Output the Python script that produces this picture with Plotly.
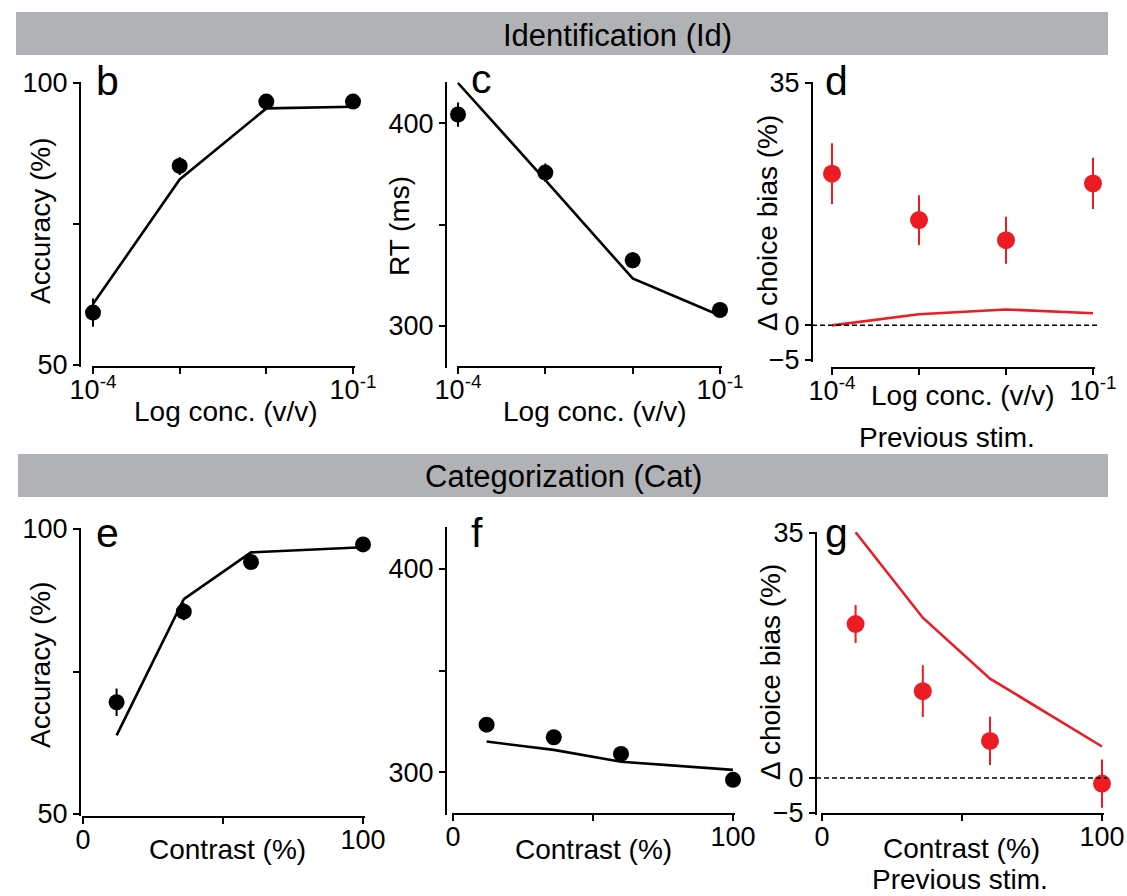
import plotly.graph_objects as go

# ---------------- data ----------------
conc = [1e-4, 1e-3, 1e-2, 1e-1]
contrast = [12, 36, 60, 100]

id_acc = [59.3, 85.3, 96.7, 96.7]
id_acc_err = [2.5, 1.6, 0.6, 0.5]
id_acc_model = [60.8, 82.9, 95.5, 95.8]

id_rt = [404.4, 375.7, 332.3, 307.7]
id_rt_err = [6.0, 4.5, 4.0, 2.0]
id_rt_model = [420.0, 372.0, 323.3, 305.0]

id_bias = [21.9, 15.2, 12.3, 20.5]
id_bias_err = [4.4, 3.6, 3.4, 3.7]
id_bias_model = [0.0, 1.6, 2.3, 1.75]

cat_acc = [69.6, 85.5, 94.2, 97.3]
cat_acc_err = [2.4, 1.5, 0.8, 0.5]
cat_acc_model = [63.8, 87.7, 95.9, 96.8]

cat_rt = [323.4, 317.2, 309.0, 296.3]
cat_rt_err = [2.5, 1.5, 1.5, 1.0]
cat_rt_model = [315.1, 311.0, 305.2, 301.2]

cat_bias = [22.0, 12.4, 5.3, -0.8]
cat_bias_err = [2.7, 3.7, 3.45, 3.45]
cat_bias_model = [35.1, 22.9, 14.2, 4.5]

conc_labeled = [1e-4, 1e-1]
conc_labels = ["10<sup>-4</sup>", "10<sup>-1</sup>"]
conc_minor = [1e-3, 1e-2]
contrast_labeled = [0, 100]
contrast_labels = ["0", "100"]
contrast_minor = [50]
acc_labeled = [50, 100]
acc_labels = ["50", "100"]
acc_minor = [75]
rt_labeled = [300, 400]
rt_labels = ["300", "400"]
rt_minor = [350]
bias_labeled = [-5, 0, 35]
bias_labels = ["\u22125", "0", "35"]
bias_minor = []

# ---------------- layout helpers ----------------
W, H = 1127, 896
BLACK = "black"
RED = "rgb(237,28,36)"
GREY = "rgb(177,178,181)"
FONT = "Liberation Sans, Arial, sans-serif"
TICKFONT = 27
TITLEFONT = 28


def px(x):
    return x / W


def py(y):
    return 1 - y / H


fig = go.Figure()

panels = [
    ("b", (93, 353), (83, 365), 80, 367, "log", [-4, -1], [50, 100],
     conc_labeled, conc_labels, conc_minor, acc_labeled, acc_labels, acc_minor),
    ("c", (458, 720), (83, 366), 446, 367, "log", [-4, -1], [280, 420],
     conc_labeled, conc_labels, conc_minor, rt_labeled, rt_labels, rt_minor),
    ("d", (832, 1093), (83, 360), 812, 368, "log", [-4, -1], [-5, 35],
     conc_labeled, conc_labels, conc_minor, bias_labeled, bias_labels, bias_minor),
    ("e", (83, 363), (529, 814), 80, 817, "linear", [0, 100], [50, 100],
     contrast_labeled, contrast_labels, contrast_minor, acc_labeled, acc_labels, acc_minor),
    ("f", (453, 733), (528, 813), 446, 814, "linear", [0, 100], [280, 420],
     contrast_labeled, contrast_labels, contrast_minor, rt_labeled, rt_labels, rt_minor),
    ("g", (822, 1102), (533, 813), 816, 814, "linear", [0, 100], [-5, 35],
     contrast_labeled, contrast_labels, contrast_minor, bias_labeled, bias_labels, bias_minor),
]

series = {
    "b": (conc, id_acc, id_acc_err, id_acc_model, BLACK, 16),
    "c": (conc, id_rt, id_rt_err, id_rt_model, BLACK, 16),
    "d": (conc, id_bias, id_bias_err, id_bias_model, RED, 18),
    "e": (contrast, cat_acc, cat_acc_err, cat_acc_model, BLACK, 16),
    "f": (contrast, cat_rt, cat_rt_err, cat_rt_model, BLACK, 16),
    "g": (contrast, cat_bias, cat_bias_err, cat_bias_model, RED, 18),
}

PAD = 1.5  # px of slack so edge points are not hidden

layout_axes = {}
shapes = []
for i, (name, xd, yd, ylx, xly, xtype, xr, yr, xt, xtt, xmin, yt, ytt, ymin) in enumerate(panels):
    n = "" if i == 0 else str(i + 1)
    xa = "xaxis" + n
    ya = "yaxis" + n
    common = dict(
        showline=True, linecolor=BLACK, linewidth=2,
        ticks="outside", ticklen=6, tickwidth=2, tickcolor=BLACK,
        showgrid=False, zeroline=False,
        tickfont=dict(family=FONT, size=TICKFONT, color=BLACK),
        anchor="free",
    )
    sx = (xr[1] - xr[0]) / (xd[1] - xd[0])
    sy = (yr[1] - yr[0]) / (yd[1] - yd[0])
    layout_axes[xa] = dict(
        common,
        domain=[px(xd[0] - PAD), px(xd[1] + PAD)], type=xtype,
        range=[xr[0] - PAD * sx, xr[1] + PAD * sx],
        tickmode="array", tickvals=xt, ticktext=xtt, position=py(xly),
        ticklabelstandoff=-7,
        minor=dict(tickmode="array", tickvals=xmin, ticks="outside", ticklen=6,
                   tickwidth=2, tickcolor=BLACK, showgrid=False),
    )
    layout_axes[ya] = dict(
        common,
        domain=[py(yd[1] + PAD), py(yd[0] - PAD)],
        range=[yr[0] - PAD * sy, yr[1] + PAD * sy],
        tickmode="array", tickvals=yt, ticktext=ytt, position=px(ylx),
        minor=dict(tickmode="array", tickvals=ymin, ticks="outside", ticklen=6,
                   tickwidth=2, tickcolor=BLACK, showgrid=False),
    )
    xs, ys, errs, model, col, msize = series[name]
    xref = "x" + n
    yref = "y" + n
    fig.add_trace(go.Scatter(
        x=xs, y=model, mode="lines", xaxis=xref, yaxis=yref,
        line=dict(color=col, width=2.6), cliponaxis=False, showlegend=False,
    ))
    fig.add_trace(go.Scatter(
        x=xs, y=ys, mode="markers", xaxis=xref, yaxis=yref,
        marker=dict(color=col, size=msize, line=dict(width=0)),
        error_y=dict(type="data", array=errs, color=col, thickness=2, width=0),
        cliponaxis=False, showlegend=False,
    ))
    if name in ("d", "g"):
        shapes.append(dict(
            type="line", xref="paper", yref=yref,
            x0=px(ylx), x1=px(xd[1] + 5), y0=0, y1=0,
            line=dict(color=BLACK, width=1.5, dash="5px,3px"),
        ))

# header bars
shapes.append(dict(type="rect", xref="paper", yref="paper", x0=px(16), x1=px(1108),
                   y0=py(55), y1=py(12), fillcolor=GREY, line=dict(width=0), layer="below"))
shapes.append(dict(type="rect", xref="paper", yref="paper", x0=px(18), x1=px(1108),
                   y0=py(497), y1=py(454), fillcolor=GREY, line=dict(width=0), layer="below"))

annotations = []


def ann(text, x, y, size, angle=0):
    annotations.append(dict(
        text=text, x=px(x), y=py(y), xref="paper", yref="paper",
        xanchor="center", yanchor="middle", showarrow=False, textangle=angle,
        font=dict(family=FONT, size=size, color=BLACK),
    ))


ann("Identification (Id)", 617, 35, 31)
ann("Categorization (Cat)", 563, 476, 31)

for letter, x, y in [("b", 107, 81), ("c", 481, 79), ("d", 836, 81),
                     ("e", 107, 533), ("f", 477, 533), ("g", 836, 533)]:
    ann(letter, x, y, 41)

ann("Accuracy (%)", 40, 221, TITLEFONT, -90)
ann("RT (ms)", 400, 226, TITLEFONT, -90)
ann("\u0394 choice bias (%)", 767, 223, TITLEFONT, -90)
ann("Accuracy (%)", 40, 665, TITLEFONT, -90)
ann("\u0394 choice bias (%)", 770, 672, TITLEFONT, -90)

ann("Log conc. (v/v)", 226, 411, TITLEFONT)
ann("Log conc. (v/v)", 595, 411, TITLEFONT)
ann("Log conc. (v/v)", 963, 395, TITLEFONT)
ann("Previous stim.", 947, 437, TITLEFONT)
ann("Contrast (%)", 227, 849, TITLEFONT)
ann("Contrast (%)", 594, 849, TITLEFONT)
ann("Contrast (%)", 961, 848, TITLEFONT)
ann("Previous stim.", 960, 879, TITLEFONT)

fig.update_layout(
    width=W, height=H,
    margin=dict(l=0, r=0, t=0, b=0, pad=0, autoexpand=False),
    paper_bgcolor="white", plot_bgcolor="white",
    shapes=shapes, annotations=annotations,
    font=dict(family=FONT, color=BLACK),
    **layout_axes,
)

fig.write_html("out.html")
